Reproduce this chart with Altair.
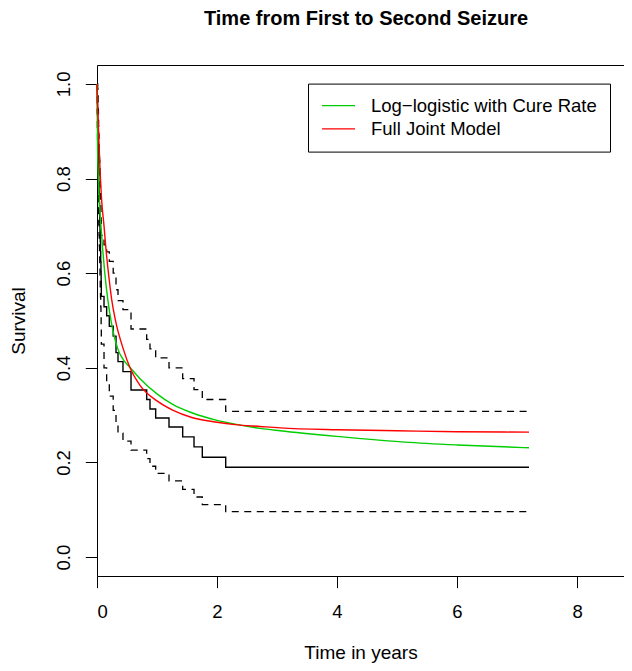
import altair as alt
import pandas as pd

# Kaplan-Meier estimate (step function) with pointwise confidence band
km_time = [0.000, 0.003, 0.006, 0.009, 0.012, 0.015, 0.018, 0.021, 0.024, 0.027,
           0.030, 0.034, 0.038, 0.042, 0.046, 0.050, 0.054, 0.058, 0.062, 0.066,
           0.069, 0.072, 0.117, 0.161, 0.205, 0.270, 0.317, 0.350, 0.433, 0.567,
           0.828, 0.883, 0.978, 1.200, 1.428, 1.617, 1.755, 2.145, 7.200]
km_surv = [1.000, 0.979, 0.958, 0.938, 0.917, 0.896, 0.875, 0.854, 0.833, 0.813,
           0.792, 0.771, 0.750, 0.729, 0.708, 0.688, 0.667, 0.646, 0.625, 0.604,
           0.583, 0.551, 0.529, 0.510, 0.488, 0.467, 0.432, 0.413, 0.392, 0.353,
           0.333, 0.313, 0.294, 0.275, 0.254, 0.233, 0.211, 0.190, 0.190]
km_upper = [1.000, 1.000, 1.000, 1.000, 0.990, 0.980, 0.962, 0.945, 0.928, 0.910,
            0.893, 0.875, 0.857, 0.839, 0.821, 0.803, 0.785, 0.766, 0.748, 0.729,
            0.711, 0.680, 0.660, 0.645, 0.625, 0.600, 0.565, 0.542, 0.523, 0.482,
            0.460, 0.440, 0.421, 0.400, 0.377, 0.354, 0.333, 0.308, 0.308]
km_lower = [1.000, 0.940, 0.905, 0.875, 0.848, 0.822, 0.797, 0.773, 0.749, 0.726,
            0.703, 0.680, 0.658, 0.636, 0.614, 0.593, 0.571, 0.550, 0.529, 0.508,
            0.487, 0.450, 0.400, 0.370, 0.340, 0.310, 0.280, 0.262, 0.245, 0.226,
            0.208, 0.192, 0.177, 0.161, 0.143, 0.127, 0.111, 0.096, 0.096]

# Fitted model survival curves
model_names = ["Log\u2212logistic with Cure Rate", "Full Joint Model"]
model_colors = ["#00CD00", "#FF0000"]

green_time = [0, 0.01, 0.02, 0.04, 0.06, 0.095, 0.13, 0.18, 0.24, 0.35, 0.45, 0.556,
              0.717, 1.0, 1.27, 1.58, 2.0, 2.3, 2.72, 3.05, 4.0, 5.13, 6.0, 7.2]
green_surv = [1.0, 0.86, 0.81, 0.75, 0.71, 0.65, 0.60, 0.544, 0.495, 0.439, 0.415, 0.40,
              0.377, 0.345, 0.322, 0.305, 0.289, 0.281, 0.272, 0.267, 0.255, 0.243, 0.237, 0.231]
red_time = [0, 0.02, 0.05, 0.08, 0.117, 0.15, 0.2, 0.245, 0.305, 0.44, 0.55, 0.717,
            1.0, 1.27, 1.58, 2.0, 2.3, 2.72, 3.05, 4.0, 5.0, 6.0, 7.2]
red_surv = [1.0, 0.92, 0.82, 0.75, 0.70, 0.65, 0.59, 0.544, 0.502, 0.439, 0.40, 0.363,
            0.33, 0.31, 0.295, 0.285, 0.280, 0.276, 0.273, 0.269, 0.267, 0.265, 0.264]

x_ticks = [0, 2, 4, 6, 8]
y_ticks = [0.0, 0.2, 0.4, 0.6, 0.8, 1.0]

km_df = pd.DataFrame({"t": km_time, "s": km_surv, "upper": km_upper, "lower": km_lower})
model_df = pd.concat([
    pd.DataFrame({"t": green_time, "s": green_surv, "model": model_names[0]}),
    pd.DataFrame({"t": red_time, "s": red_surv, "model": model_names[1]}),
])

FONT = "Liberation Sans"
xscale = alt.Scale(domain=[0, 8.783], nice=False, zero=False)
yscale = alt.Scale(domain=[-0.04, 1.04], nice=False, zero=False)

x_axis_bottom = alt.Axis(values=x_ticks, format="d", grid=False, tickSize=11.7,
                         tickColor="black", domainColor="black", tickWidth=1, domainWidth=1,
                         labelFontSize=18.5, labelFont=FONT, labelColor="black", labelPadding=15,
                         title="Time in years", titleFontSize=19, titleFont=FONT,
                         titleFontWeight="normal", titleColor="black", titleY=82,
                         titleBaseline="alphabetic", orient="bottom")
x_axis_top = alt.Axis(orient="top", labels=False, ticks=False, grid=False, title=None,
                      domainColor="black", domainWidth=1)
y_axis = alt.Axis(values=y_ticks, format=".1f", grid=False, tickSize=11.7,
                  tickColor="black", domainColor="black", tickWidth=1, domainWidth=1,
                  labelFontSize=18.5, labelFont=FONT, labelColor="black", labelAngle=270,
                  labelAlign="center", labelBaseline="bottom", labelPadding=11.5,
                  title="Survival", titleFontSize=19, titleFont=FONT, titleFontWeight="normal",
                  titleColor="black", titleAngle=270, titleX=-73, titleBaseline="alphabetic")

base = alt.Chart(km_df)
y_enc = lambda f: alt.Y(f, type="quantitative", scale=yscale, axis=y_axis)

km_line = base.mark_line(interpolate="step-after", color="black", strokeWidth=1.4).encode(
    x=alt.X("t:Q", scale=xscale, axis=x_axis_bottom), y=y_enc("s"))
upper_line = base.mark_line(interpolate="step-after", color="black", strokeWidth=1.3,
                            strokeDash=[7, 5.5]).encode(
    x=alt.X("t:Q", scale=xscale, axis=x_axis_top), y=y_enc("upper"))
lower_line = base.mark_line(interpolate="step-after", color="black", strokeWidth=1.3,
                            strokeDash=[7, 5.5]).encode(
    x=alt.X("t:Q", scale=xscale, axis=None), y=y_enc("lower"))

models = alt.Chart(model_df).mark_line(interpolate="monotone", strokeWidth=1.4).encode(
    x=alt.X("t:Q", scale=xscale, axis=None),
    y=y_enc("s"),
    color=alt.Color("model:N", scale=alt.Scale(domain=model_names, range=model_colors),
                    legend=alt.Legend(orient="none", legendX=211, legendY=18.6, title=None,
                                      strokeColor="black", fillColor="white", padding=13,
                                      cornerRadius=0, symbolType="stroke", symbolSize=1089,
                                      symbolStrokeWidth=1.4, labelFontSize=18.5, labelFont=FONT,
                                      labelColor="black", labelOffset=15, labelLimit=500,
                                      clipHeight=18, rowPadding=4.3)),
    detail="model:N",
)

chart = alt.layer(lower_line, upper_line, km_line, models).resolve_axis(x="independent").properties(
    width=527, height=511,
    padding={"left": 89, "top": 57, "right": 0, "bottom": 87},
    autosize=alt.AutoSizeParams(type="none"),
    title=alt.TitleParams("Time from First to Second Seizure", fontSize=20, fontWeight="bold",
                          font=FONT, color="black", anchor="middle", baseline="alphabetic",
                          offset=20, dx=5.5),
).configure_view(stroke=None).configure(font=FONT)

chart.save("out.html", embed_options={"renderer": "svg", "actions": False})
